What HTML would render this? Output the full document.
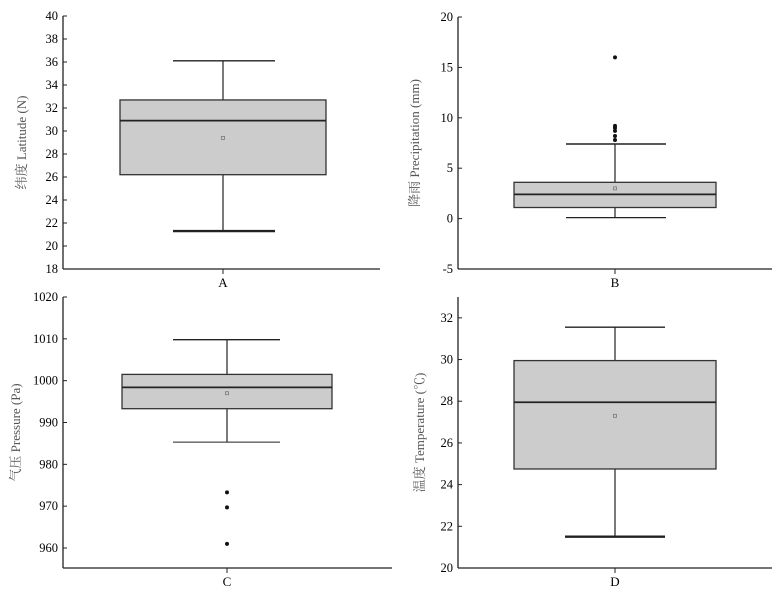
<!DOCTYPE html>
<html><head><meta charset="utf-8"><style>
body{margin:0;background:#fff;}
svg{display:block;font-family:"Liberation Serif","Noto Serif CJK SC",serif;}
</style></head><body>
<svg id="c" width="784" height="594" viewBox="0 0 784 594"></svg>
<script>
const categories = ["A","B","C","D"];
const q1Values = [26.2, 1.1, 993.3, 24.75];
const medianValues = [30.9, 2.4, 998.4, 27.95];
const q3Values = [32.7, 3.6, 1001.5, 29.95];
const whiskerLow = [21.3, 0.1, 985.3, 21.5];
const whiskerHigh = [36.1, 7.4, 1009.8, 31.55];
const meanValues = [29.4, 3.0, 997, 27.3];
const outliersA = [];
const outliersB = [16, 9.2, 9.0, 8.7, 8.2, 7.8];
const outliersC = [973.3, 969.7, 961];
const outliersD = [];
const ticksA = [18,20,22,24,26,28,30,32,34,36,38,40];
const ticksB = [-5,0,5,10,15,20];
const ticksC = [960,970,980,990,1000,1010,1020];
const ticksD = [20,22,24,26,28,30,32];
const axisTitles = ["纬度 Latitude (N)","降雨 Precipitation (mm)","气压 Pressure (Pa)","温度 Temperature (℃)"];

const outliers=[outliersA,outliersB,outliersC,outliersD];
const ticks=[ticksA,ticksB,ticksC,ticksD];
const panels=[
 {ax:63,right:380,top:16,bot:269,dmin:18,dmax:40,bx0:120,bx1:326,cx:223,cap:[173,275],ty:26,lowCap:2.4},
 {ax:458,right:772,top:17,bot:269,dmin:-5,dmax:20,bx0:514,bx1:716,cx:615,cap:[566,666],ty:419,lowCap:1.2},
 {ax:63,right:392,top:297,bot:568,dmin:1020-60*271/251,dmax:1020,bx0:122,bx1:332,cx:227,cap:[173,280],ty:20,lowCap:1.0},
 {ax:458,right:772,top:297,bot:568,dmin:20,dmax:33.0,bx0:514,bx1:716,cx:615,cap:[565,665],ty:424,lowCap:2.4}
];
const svg=document.getElementById('c');
const NS='http://www.w3.org/2000/svg';
function mk(tag,attrs,parent){const e=document.createElementNS(NS,tag);for(const k in attrs)e.setAttribute(k,attrs[k]);(parent||svg).appendChild(e);return e;}
panels.forEach((p,i)=>{
 const g=mk('g',{});
 
 
 const y=v=>p.bot-(v-p.dmin)/(p.dmax-p.dmin)*(p.bot-p.top);
 const ya=mk('line',{x1:p.ax,y1:p.top,x2:p.ax,y2:p.bot,stroke:'#222','stroke-width':1.3},g);
 
 
 const xa=mk('line',{x1:p.ax,y1:p.bot,x2:p.right,y2:p.bot,stroke:'#222','stroke-width':1.3},g);
 
 
 mk('line',{x1:p.cx,y1:p.bot,x2:p.cx,y2:p.bot+5,stroke:'#222'},g);
 const xl=mk('text',{x:p.cx,y:p.bot+18,'text-anchor':'middle','font-size':13},g);
 xl.textContent=categories[i];
 
 
 ticks[i].forEach(t=>{
  const yy=y(t);
  mk('line',{x1:p.ax,y1:yy,x2:p.ax+4,y2:yy,stroke:'#222'},g);
  const tl=mk('text',{x:p.ax-5,y:yy+4,'text-anchor':'end','font-size':12.5},g);
  tl.textContent=t;
  
  
 });
 const mid=(p.top+p.bot)/2;
 const at=mk('text',{x:p.ty,y:mid,'text-anchor':'middle','font-size':13,fill:'#555',transform:`rotate(-90 ${p.ty} ${mid})`},g);
 at.textContent=axisTitles[i];
 
 
 const w=mk('line',{x1:p.cx,y1:y(whiskerLow[i]),x2:p.cx,y2:y(whiskerHigh[i]),stroke:'#222','stroke-width':1.2},g);
 
 
 [whiskerLow[i],whiskerHigh[i]].forEach((v,k)=>{
  const c=mk('line',{x1:p.cap[0],y1:y(v),x2:p.cap[1],y2:y(v),stroke:'#222','stroke-width':k==0?p.lowCap:1.4},g);
  
  
 });
 const b=mk('rect',{x:p.bx0,y:y(q3Values[i]),width:p.bx1-p.bx0,height:y(q1Values[i])-y(q3Values[i]),fill:'#cccccc',stroke:'#333','stroke-width':1.3},g);
 
 
 const m=mk('line',{x1:p.bx0,y1:y(medianValues[i]),x2:p.bx1,y2:y(medianValues[i]),stroke:'#222','stroke-width':1.8},g);
 
 
 const mn=mk('rect',{x:p.cx-1.5,y:y(meanValues[i])-1.5,width:3,height:3,fill:'none',stroke:'#777','stroke-width':0.8},g);
 
 
 outliers[i].forEach(v=>{
  const o=mk('circle',{cx:p.cx,cy:y(v),r:2,fill:'#111'},g);
  
  
 });
});
</script>
</body></html>
